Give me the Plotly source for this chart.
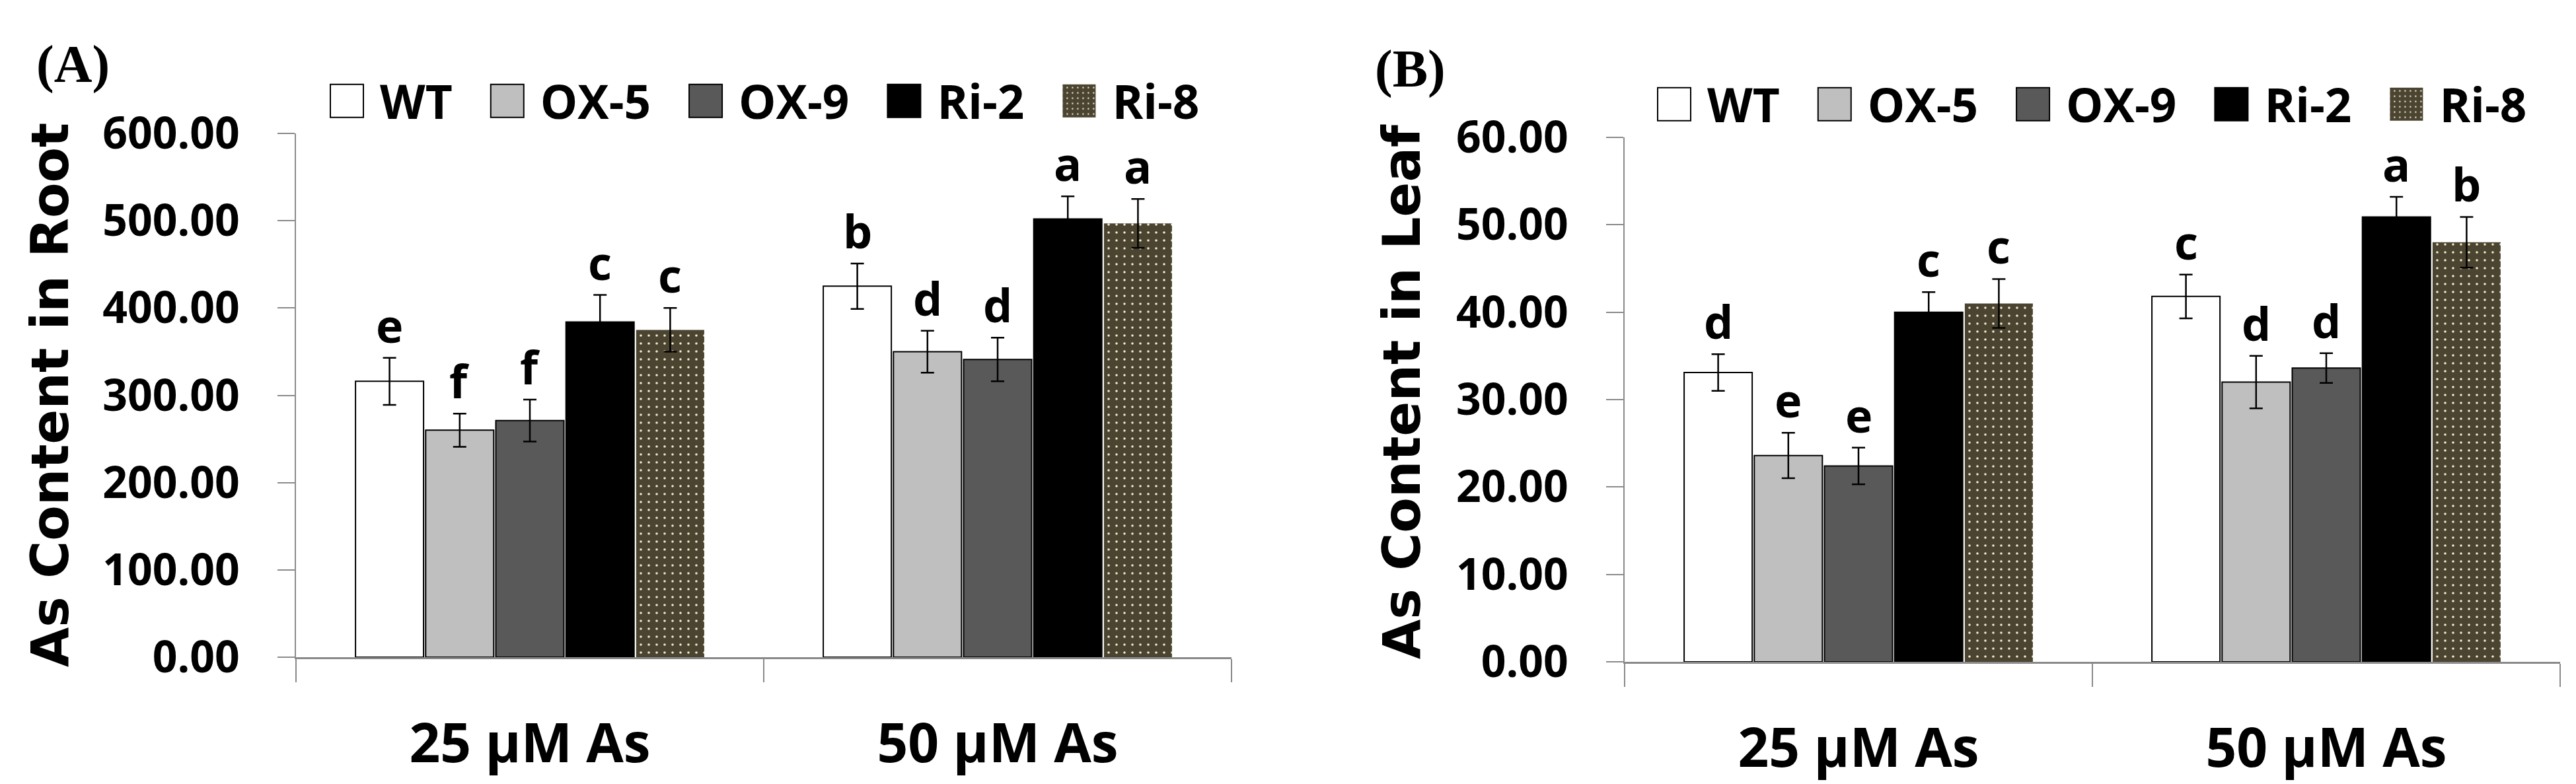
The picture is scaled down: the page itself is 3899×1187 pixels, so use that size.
"""Arsenic content in root and leaf of WT, OX and RNAi lines, two panels."""

import plotly.graph_objects as go

W, H = 3899, 1187

doses = ["25 µM As", "50 µM As"]
lines = ["WT", "OX-5", "OX-9", "Ri-2", "Ri-8"]

# panel A: root
root_mean_25 = [316, 260, 271, 384, 375]
root_mean_50 = [425, 350, 341, 502, 497]
root_err_25 = [27, 19, 24, 31, 25]
root_err_50 = [26, 24, 25, 26, 28]
root_letters_25 = ["e", "f", "f", "c", "c"]
root_letters_50 = ["b", "d", "d", "a", "a"]

# panel B: leaf
leaf_mean_25 = [33.1, 23.6, 22.4, 40.0, 41.0]
leaf_mean_50 = [41.8, 32.0, 33.6, 50.9, 48.0]
leaf_err_25 = [2.1, 2.6, 2.1, 2.3, 2.8]
leaf_err_50 = [2.5, 3.0, 1.7, 2.3, 2.9]
leaf_letters_25 = ["d", "e", "e", "c", "c"]
leaf_letters_50 = ["c", "d", "d", "a", "b"]

fill_colors = ["#ffffff", "#bfbfbf", "#595959", "#000000", "#4a4431"]
edge_widths = [2, 2, 2, 2, 0]

AXIS_GRAY = "#8a8a8a"
BARGAP = 0.25
N = len(lines)


def px_x(p):
    return p / W


def px_y(p):
    return 1 - p / H


def bold(size, family="Open Sans"):
    return dict(family=family, size=size, color="black", weight="bold")


def marker_for(j):
    m = dict(color=fill_colors[j], line=dict(color="black", width=edge_widths[j]))
    if lines[j] == "Ri-8":
        m["pattern"] = dict(shape=".", fillmode="replace", bgcolor=fill_colors[j],
                            fgcolor="#f2ecd2", size=12, solidity=0.07)
    return m


def paper_text(x, y, text, font, angle=0):
    return dict(x=px_x(x), y=px_y(y), xref="paper", yref="paper", text=text,
                textangle=angle, showarrow=False, xanchor="center", yanchor="middle",
                font=font)


fig = go.Figure()

panels = [
    dict(xa="x", ya="y", legend="legend", m25=root_mean_25, m50=root_mean_50,
         e25=root_err_25, e50=root_err_50, l25=root_letters_25, l50=root_letters_50),
    dict(xa="x2", ya="y2", legend="legend2", m25=leaf_mean_25, m50=leaf_mean_50,
         e25=leaf_err_25, e50=leaf_err_50, l25=leaf_letters_25, l50=leaf_letters_50),
]

annotations = []
for p in panels:
    for j, name in enumerate(lines):
        fig.add_bar(
            x=doses,
            y=[p["m25"][j], p["m50"][j]],
            name=name,
            xaxis=p["xa"],
            yaxis=p["ya"],
            legend=p["legend"],
            marker=marker_for(j),
            error_y=dict(type="data", array=[p["e25"][j], p["e50"][j]],
                         color="black", thickness=2.5, width=10),
        )
        slot = (1 - BARGAP) / N
        for i, (m, e, lab) in enumerate([(p["m25"][j], p["e25"][j], p["l25"][j]),
                                         (p["m50"][j], p["e50"][j], p["l50"][j])]):
            annotations.append(dict(
                x=i + (j - (N - 1) / 2) * slot, y=m + e,
                xref=p["xa"], yref=p["ya"],
                text=lab, showarrow=False, yanchor="bottom", xanchor="center",
                font=bold(70),
            ))

# axis titles and panel tags
annotations += [
    paper_text(68, 590, "As Content in Root", bold(78, "DejaVu Sans"), -90),
    paper_text(2114, 585, "As Content in Leaf", bold(78, "DejaVu Sans"), -90),
    paper_text(102, 89, "(A)", bold(80, "Liberation Serif")),
    paper_text(2126, 96, "(B)", bold(80, "Liberation Serif")),
]

xaxis_style = dict(
    type="category", showline=True, linecolor=AXIS_GRAY, linewidth=3,
    ticks="outside", tickson="boundaries", ticklen=35, tickwidth=2, tickcolor=AXIS_GRAY,
    tickfont=bold(82), ticklabelstandoff=58, showgrid=False, zeroline=False,
    automargin=False,
)
yaxis_style = dict(
    showline=True, linecolor=AXIS_GRAY, linewidth=2,
    ticks="outside", ticklen=26, tickwidth=2, tickcolor=AXIS_GRAY,
    tickfont=bold(66), tickformat=".2f", ticklabelstandoff=44,
    showgrid=False, zeroline=False, automargin=False,
)
legend_style = dict(
    orientation="h", xanchor="left", yanchor="middle", font=bold(71),
    itemwidth=118, bgcolor="rgba(0,0,0,0)", traceorder="normal",
)

fig.update_layout(
    template="none",
    width=W, height=H, autosize=False,
    margin=dict(l=0, r=0, t=0, b=0, autoexpand=False),
    paper_bgcolor="white", plot_bgcolor="white",
    barmode="group", bargap=BARGAP, bargroupgap=0.03,
    xaxis=dict(domain=[px_x(440), px_x(1856)], anchor="y", **xaxis_style),
    yaxis=dict(domain=[px_y(987), px_y(194)], anchor="x", range=[0, 600], dtick=100,
               **yaxis_style),
    xaxis2=dict(domain=[px_x(2451), px_x(3867)], anchor="y2", **xaxis_style),
    yaxis2=dict(domain=[px_y(994), px_y(200)], anchor="x2", range=[0, 60], dtick=10,
                **yaxis_style),
    legend=dict(x=px_x(439), y=px_y(145), **legend_style),
    legend2=dict(x=px_x(2448), y=px_y(150), **legend_style),
    annotations=annotations,
    showlegend=True,
)

# Excel-style legend keys: enlarge plotly's small bar swatches
swatch_js = """
var gd = document.getElementById('{plot_id}');
function bigSwatches() {
  gd.querySelectorAll('g.legendpoints path').forEach(function (p) {
    p.setAttribute('d', 'M39,25H-11V-25H39Z');
  });
}
bigSwatches();
gd.on('plotly_afterplot', bigSwatches);
"""

fig.write_html("out.html", post_script=swatch_js)
